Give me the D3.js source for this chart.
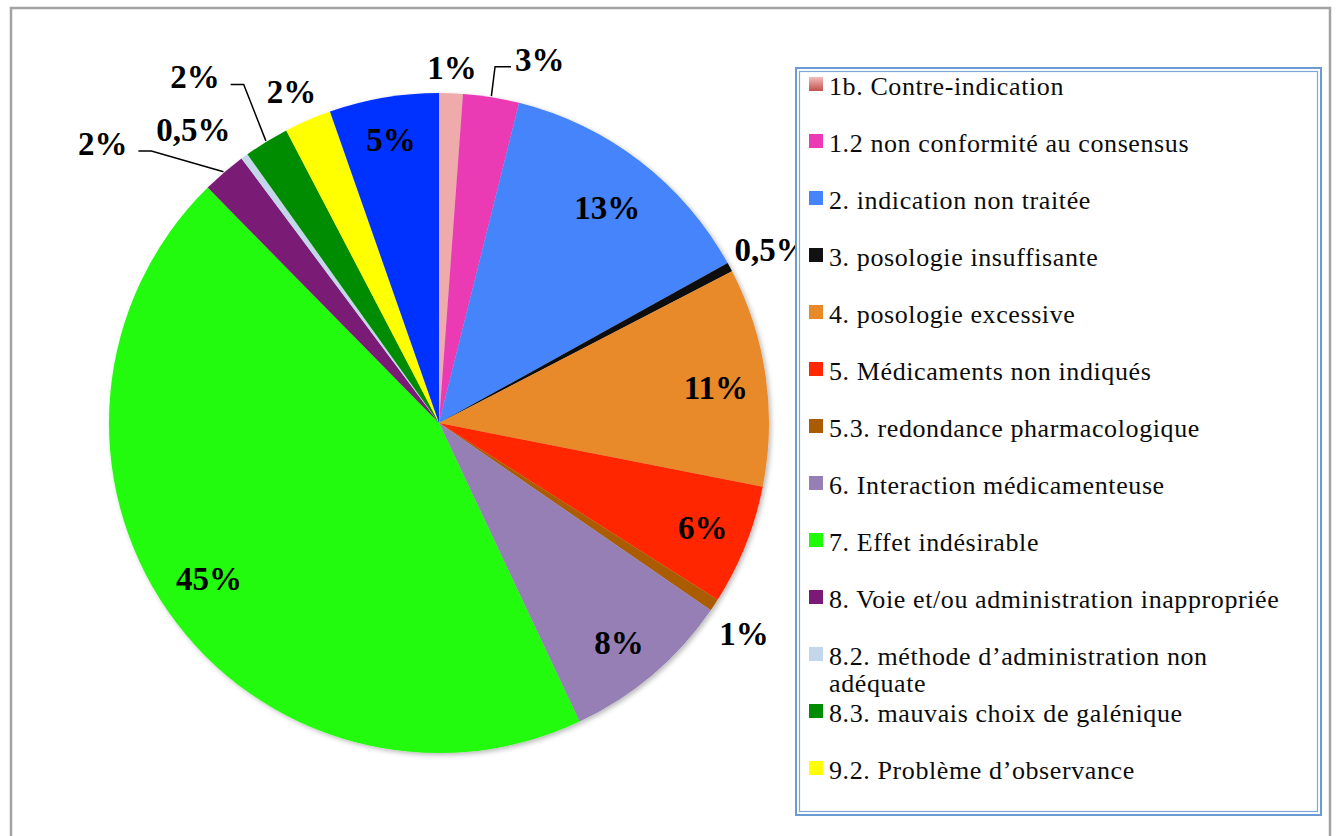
<!DOCTYPE html>
<html>
<head>
<meta charset="utf-8">
<script src="https://cdn.jsdelivr.net/npm/d3@7"></script>
<style>
  body { margin: 0; background: #fff; }
  svg { display: block; }
  .lbl { font-family: "Liberation Serif", serif; font-weight: bold; font-size: 33px; fill: #000; }
  .leg { font-family: "Liberation Serif", serif; font-size: 26px; fill: #0c0c0c; letter-spacing: 0.6px; }
</style>
</head>
<body>
<svg id="chart" width="1338" height="836"></svg>
<script>
var width = 1338,
    height = 836,
    cx = 439,
    cy = 423,
    radius = 330;

// categories, clockwise from 12 o'clock (last slice has no legend entry)
var categories = [
  "1b. Contre-indication",
  "1.2 non conformité au consensus",
  "2. indication non traitée",
  "3. posologie insuffisante",
  "4. posologie excessive",
  "5. Médicaments non indiqués",
  "5.3. redondance pharmacologique",
  "6. Interaction médicamenteuse",
  "7. Effet indésirable",
  "8. Voie et/ou administration inappropriée",
  "8.2. méthode d’administration non adéquate",
  "8.3. mauvais choix de galénique",
  "9.2. Problème d’observance",
  ""
];
var shares = [1.16, 2.74, 13.05, 0.45, 10.7, 5.9, 0.6, 8.4, 44.64, 2.15, 0.35, 2.2, 2.3, 5.36];
var labels = ["1%", "3%", "13%", "0,5%", "11%", "6%", "1%", "8%", "45%", "2%", "0,5%", "2%", "2%", "5%"];
var colors = ["#efabab", "#ea3ab4", "#4584fb", "#111111", "#e98a2a", "#ff2800", "#ab5b04", "#957fb5",
              "#20fb0a", "#7a1a76", "#c4d6ea", "#008c00", "#ffff00", "#0433ff"];

// label placement: distance from centre (px), angle nudge (deg), leader line side
var labelDist = [355, 377, 273, 375, 279, 284, 371, 284, 278, 437, 382, 423, 362, 287];
var labelNudge = [0, 6.4, 0.5, 0.7, 1, 0, 1.2, 1, 0.7, -9.7, -3.9, -3.7, -0.6, 0];
var leaderSide = [null, "right", null, null, null, null, null, null, null, "left", null, "left", null, null];

var svg = d3.select("#chart");

var defs = svg.append("defs");
var grad = defs.append("linearGradient")
    .attr("id", "g1b").attr("x1", 0).attr("y1", 0).attr("x2", 0).attr("y2", 1);
grad.append("stop").attr("offset", "0%").attr("stop-color", "#f4bcbc");
grad.append("stop").attr("offset", "100%").attr("stop-color", "#c0504d");

defs.append("filter").attr("id", "shadow")
    .attr("x", "-10%").attr("y", "-10%").attr("width", "120%").attr("height", "120%")
  .append("feDropShadow")
    .attr("dx", 2).attr("dy", 2).attr("stdDeviation", 2.5)
    .attr("flood-color", "#000").attr("flood-opacity", 0.28);

// outer frame
svg.append("path")
    .attr("d", "M11," + height + "V8H1330V" + height)
    .attr("fill", "none")
    .attr("stroke", "#a3a3a3")
    .attr("stroke-width", 2.5);

var pie = d3.pie().sort(null).value(function(d) { return d; });
var arcs = pie(shares);

var arc = d3.arc().innerRadius(0).outerRadius(radius);

var g = svg.append("g").attr("transform", "translate(" + cx + "," + cy + ")");

g.append("g")
    .attr("filter", "url(#shadow)")
  .selectAll("path")
  .data(arcs)
  .enter().append("path")
    .attr("d", arc)
    .attr("fill", function(d, i) { return colors[i]; });

function polar(a, r) {
  return [r * Math.sin(a), -r * Math.cos(a)];
}

var lbl = g.selectAll("text.lbl")
  .data(arcs)
  .enter().append("text")
    .attr("class", "lbl")
    .attr("text-anchor", "middle")
    .attr("dy", "0.33em")
    .attr("transform", function(d, i) {
      var a = (d.startAngle + d.endAngle) / 2 + labelNudge[i] * Math.PI / 180;
      var p = polar(a, labelDist[i]);
      return "translate(" + p[0] + "," + p[1] + ")";
    })
    .text(function(d, i) { return labels[i]; });

// leader lines
lbl.each(function(d, i) {
  if (!leaderSide[i]) return;
  var a = (d.startAngle + d.endAngle) / 2,
      a2 = a + labelNudge[i] * Math.PI / 180,
      p0 = polar(a, radius + 1),
      pc = polar(a2, labelDist[i]),
      w = this.getComputedTextLength(),
      ly = pc[1] + 7, x1, x2;
  if (leaderSide[i] == "right") {
    x1 = pc[0] - w / 2 - 20; x2 = pc[0] - w / 2 - 4;
  } else {
    x1 = pc[0] + w / 2 + 24; x2 = pc[0] + w / 2 + 11;
  }
  g.append("path")
      .attr("d", "M" + p0[0] + "," + p0[1] + "L" + x1 + "," + ly + "L" + x2 + "," + ly)
      .attr("fill", "none")
      .attr("stroke", "#000")
      .attr("stroke-width", 1.5);
});

// legend
var legendItems = categories.filter(function(c) { return c != ""; });
var legX = 796, legY = 68, legW = 525, legH = 747;

var leg = svg.append("g");
leg.append("rect")
    .attr("x", legX).attr("y", legY).attr("width", legW).attr("height", legH)
    .attr("fill", "#fff").attr("stroke", "#6b9bd2").attr("stroke-width", 2);
leg.append("rect")
    .attr("x", legX + 3.5).attr("y", legY + 3.5).attr("width", legW - 7).attr("height", legH - 7)
    .attr("fill", "none").attr("stroke", "#7fa8d9").attr("stroke-width", 1.2);

var ly = d3.scalePoint()
    .domain(legendItems)
    .range([95, 779]);

var item = leg.selectAll("g.item")
  .data(legendItems)
  .enter().append("g")
    .attr("class", "item")
    .attr("transform", function(d) { return "translate(809," + ly(d) + ")"; });

item.append("rect")
    .attr("x", 0).attr("y", -18).attr("width", 14).attr("height", 14)
    .attr("fill", function(d, i) { return i == 0 ? "url(#g1b)" : colors[i]; });

item.append("text")
    .attr("class", "leg")
    .attr("x", 20)
    .each(function(d) {
      var t = d3.select(this),
          words = d.split(" "),
          line = [],
          tspan = t.append("tspan").attr("x", 20).attr("dy", 0);
      for (var k = 0; k < words.length; k++) {
        line.push(words[k]);
        tspan.text(line.join(" "));
        if (tspan.node().getComputedTextLength() > 470 && line.length > 1) {
          line.pop();
          tspan.text(line.join(" "));
          line = [words[k]];
          tspan = t.append("tspan").attr("x", 20).attr("dy", 27).text(words[k]);
        }
      }
    });
</script>
</body>
</html>
